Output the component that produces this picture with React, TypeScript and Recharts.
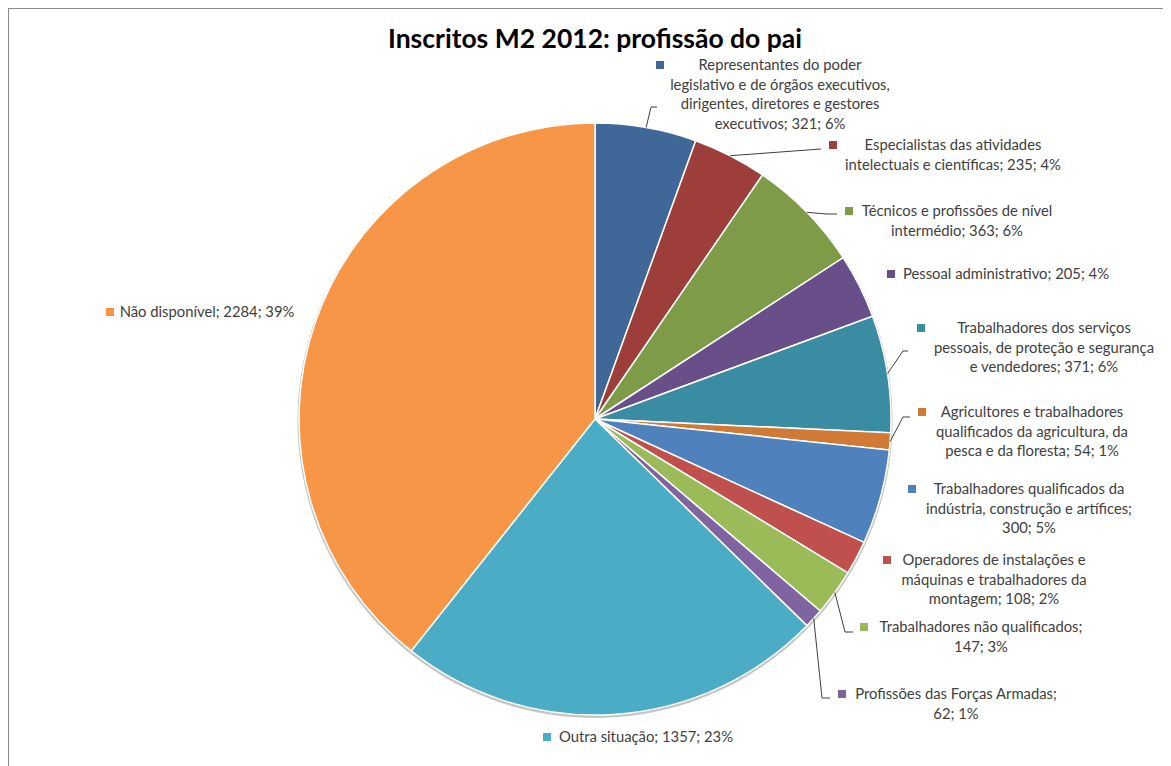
import React from 'react';
import { PieChart, Pie, Cell } from 'recharts';

const title = 'Inscritos M2 2012: profissão do pai';

const categories = [
  'Representantes do poder legislativo e de órgãos executivos, dirigentes, diretores e gestores executivos',
  'Especialistas das atividades intelectuais e científicas',
  'Técnicos e profissões de nível intermédio',
  'Pessoal administrativo',
  'Trabalhadores dos serviços pessoais, de proteção e segurança e vendedores',
  'Agricultores e trabalhadores qualificados da agricultura, da pesca e da floresta',
  'Trabalhadores qualificados da indústria, construção e artífices',
  'Operadores de instalações e máquinas e trabalhadores da montagem',
  'Trabalhadores não qualificados',
  'Profissões das Forças Armadas',
  'Outra situação',
  'Não disponível',
];

const values = [321, 235, 363, 205, 371, 54, 300, 108, 147, 62, 1357, 2284];

const colors = [
  '#3F6797', '#9D3E3B', '#7E9B48', '#684F8A', '#3A8CA3', '#D07A36',
  '#4F81BD', '#C0504D', '#9BBB59', '#8064A2', '#4BACC6', '#F79646',
];

// words per wrapped label line
const lineWordCounts = [
  [3, 5, 4, 3], [3, 5], [5, 3], [99], [3, 5, 4], [3, 4, 6],
  [3, 4, 2], [4, 4, 3], [3, 2], [4, 2], [99], [99],
];

// label placement relative to pie centre: marker x, text centre x, first baseline y, leader points
const labelLayout = [
  { mx: 61, tx: 185, ty: -349, leader: [[56, -312], [62, -312]] },
  { mx: 234, tx: 358, ty: -269, leader: [[226, -270]] },
  { mx: 250, tx: 362, ty: -203, leader: [[232, -205], [242, -205]] },
  { mx: 292, tx: 411, ty: -140, leader: [] },
  { mx: 322, tx: 449, ty: -86, leader: [[308, -68], [313, -68]] },
  { mx: 323, tx: 437, ty: -2, leader: [[308, -2], [315, -2]] },
  { mx: 313, tx: 434, ty: 75, leader: [] },
  { mx: 288, tx: 399, ty: 146, leader: [] },
  { mx: 265, tx: 386, ty: 213, leader: [[250, 213], [258, 213]] },
  { mx: 243, tx: 361, ty: 280, leader: [[227, 279], [235, 279]] },
  { mx: -52, tx: 51, ty: 323, leader: [] },
  { mx: -489, tx: -388, ty: -102, leader: [] },
];

const total = values.reduce((a, b) => a + b, 0);
const data = categories.map((name, i) => ({ name, value: values[i] }));
const shadowData = [{ name: 'shadow', value: total }];

const FONT = 'Lato, "Open Sans", sans-serif';

const renderLabel = (props: any) => {
  const { cx, cy, midAngle, outerRadius, index, value } = props;
  const L = labelLayout[index];
  const RAD = Math.PI / 180;
  const sx = cx + outerRadius * Math.cos(-midAngle * RAD);
  const sy = cy + outerRadius * Math.sin(-midAngle * RAD);
  const pct = Math.round((value / total) * 100);
  const words = `${categories[index]}; ${value}; ${pct}%`.split(' ');
  const lines: string[] = [];
  let k = 0;
  for (const n of lineWordCounts[index]) {
    if (k >= words.length) break;
    lines.push(words.slice(k, k + n).join(' '));
    k += n;
  }
  const pts = [[sx, sy], ...L.leader.map(([x, y]) => [cx + x, cy + y])];
  return (
    <g key={`lbl-${index}`}>
      {L.leader.length > 0 && (
        <polyline
          points={pts.map((p) => p.join(',')).join(' ')}
          fill="none"
          stroke="#404040"
          strokeWidth={1}
        />
      )}
      <rect x={cx + L.mx} y={cy + L.ty - 9} width={8} height={8} fill={colors[index]} />
      <text textAnchor="middle" fontFamily={FONT} fontSize={14.8} fill="#404040">
        {lines.map((ln, i) => (
          <tspan key={i} x={cx + L.tx} y={cy + L.ty + i * 19.5}>
            {ln}
          </tspan>
        ))}
      </text>
    </g>
  );
};

export default function App() {
  return (
    <div style={{ position: 'relative', width: 1163, height: 758, overflow: 'visible' }}>
      <div
        style={{
          position: 'absolute',
          left: 0,
          top: 0,
          width: 1170,
          height: 770,
          borderLeft: '1px solid #8a8a8a',
          borderTop: '1px solid #8a8a8a',
          boxSizing: 'border-box',
          pointerEvents: 'none',
        }}
      />
      <PieChart
        width={1163}
        height={758}
        margin={{ top: 0, right: 0, bottom: 0, left: 0 }}
        style={{ position: 'absolute', left: 0, top: 0 }}
      >
        <Pie
          data={shadowData}
          dataKey="value"
          cx={587}
          cy={412.5}
          outerRadius={297.5}
          startAngle={90}
          endAngle={-270}
          fill="#c4c4c4"
          stroke="none"
          isAnimationActive={false}
        />
        <Pie
          data={data}
          dataKey="value"
          nameKey="name"
          cx={587}
          cy={411}
          outerRadius={296}
          startAngle={90}
          endAngle={-270}
          stroke="#ffffff"
          strokeWidth={1.5}
          label={renderLabel}
          labelLine={false}
          isAnimationActive={false}
        >
          {data.map((d, i) => (
            <Cell key={d.name} fill={colors[i]} />
          ))}
        </Pie>
      </PieChart>
      <svg
        width={1163}
        height={60}
        style={{ position: 'absolute', left: 0, top: 0, pointerEvents: 'none' }}
      >
        <text x={587} y={40} textAnchor="middle" fontFamily={FONT} fontWeight="bold" fontSize={26.5} fill="#000">
          {title}
        </text>
      </svg>
    </div>
  );
}
